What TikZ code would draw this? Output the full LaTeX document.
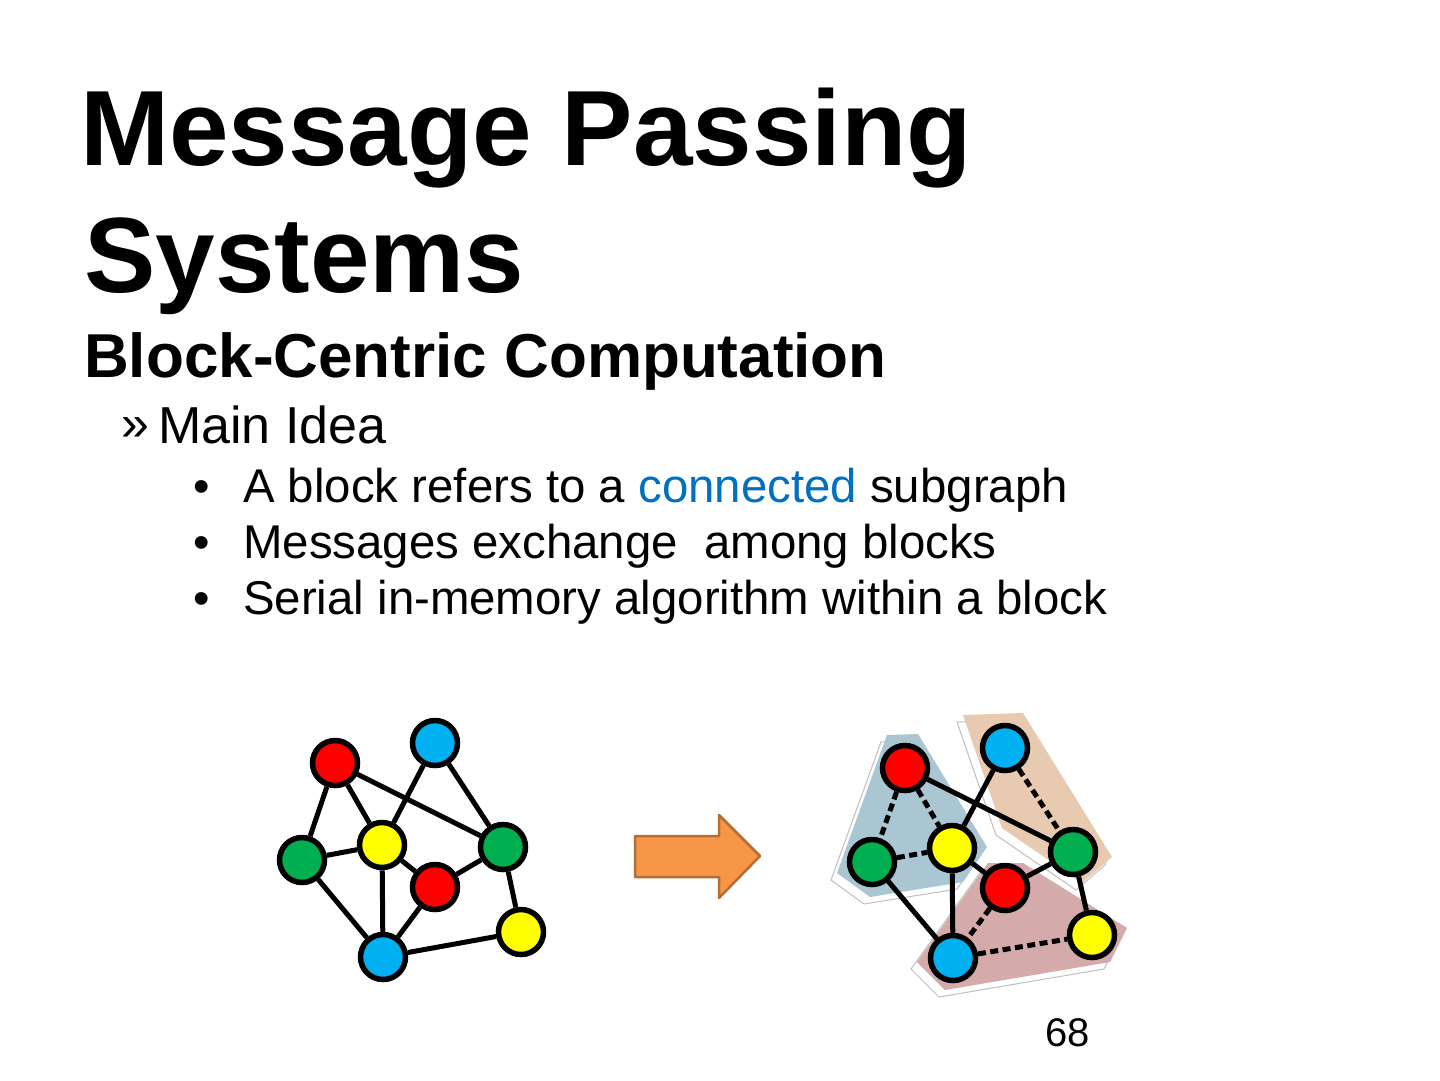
\documentclass[tikz,border=0pt]{standalone}
\usepackage{fontspec}
\setmainfont{Liberation Sans}
\usepackage{tikz}
\usetikzlibrary{backgrounds,shadows}
\definecolor{vred}{HTML}{FF0000}
\definecolor{vblue}{HTML}{00B0F0}
\definecolor{vgreen}{HTML}{00B050}
\definecolor{vyellow}{HTML}{FFFF00}
\definecolor{linkblue}{HTML}{0070C0}
\definecolor{arrowfill}{HTML}{F79646}
\definecolor{arrowline}{HTML}{B66D31}
\definecolor{blkblue}{HTML}{A9C6D2}
\definecolor{blkorange}{HTML}{E7CAAF}
\definecolor{blkred}{HTML}{D4AAAB}

\begin{document}
\begin{tikzpicture}[
  x=1pt, y=-1pt,
  vtx/.style={circle, draw, line width=5.5pt, minimum size=45pt, inner sep=0pt, drop shadow={shadow xshift=2pt, shadow yshift=-2.5pt, opacity=0.3}},
  link/.style={line width=5pt},
  local/.style={link, dash pattern=on 8pt off 4.5pt},
  bevel/.style={fill=white, draw=black!25, line width=1pt, line join=round},
  txt/.style={anchor=base west, inner sep=0pt},
  bigarrow/.style={fill=arrowfill, draw=arrowline, line width=2.5pt, line join=round}
]
\useasboundingbox (0,0) rectangle (1440,1080);
% Title and bullets
\node[txt, font=\fontsize{107}{120}\selectfont\bfseries] (title1) at (80,165) {Message Passing};
\node[txt, font=\fontsize{107}{120}\selectfont\bfseries] (title2) at (84,292) {Systems};
\node[txt, font=\fontsize{62}{70}\selectfont\bfseries] (subtitle) at (84,377) {Block-Centric Computation};
\node[txt, font=\fontsize{50}{56}\selectfont] (mark) at (121,440) {»};
\node[txt, font=\fontsize{52}{60}\selectfont] (idea) at (158,443) {Main Idea};
\node[txt, font=\fontsize{47}{54}\selectfont] (dot1) at (193,502) {•};
\node[txt, font=\fontsize{47.4}{54}\selectfont] (item1) at (243,502) {A block refers to a \textcolor{linkblue}{connected} subgraph};
\node[txt, font=\fontsize{47}{54}\selectfont] (dot2) at (193,558) {•};
\node[txt, font=\fontsize{47.4}{54}\selectfont] (item2) at (243,558) {Messages exchange\ \ among blocks};
\node[txt, font=\fontsize{47}{54}\selectfont] (dot3) at (193,614) {•};
\node[txt, font=\fontsize{47.4}{54}\selectfont] (item3) at (243,614) {Serial in-memory algorithm within a block};
\node[txt, font=\fontsize{40}{46}\selectfont] (page) at (1045,1046) {68};
% Left graph
\node[vtx, fill=vred] (lred1) at (335,763) {};
\node[vtx, fill=vblue] (lblue1) at (435,743) {};
\node[vtx, fill=vgreen] (lgreen1) at (302,860) {};
\node[vtx, fill=vyellow] (lyellow1) at (382,845) {};
\node[vtx, fill=vred] (lred2) at (435,887) {};
\node[vtx, fill=vgreen] (lgreen2) at (503,847) {};
\node[vtx, fill=vyellow] (lyellow2) at (521,932) {};
\node[vtx, fill=vblue] (lblue2) at (383,957) {};
\draw[link] (lred1) -- (lgreen1) (lred1) -- (lyellow1) (lred1) -- (lgreen2)
  (lblue1) -- (lyellow1) (lblue1) -- (lgreen2) (lgreen1) -- (lyellow1)
  (lgreen1) -- (lblue2) (lyellow1) -- (lred2) (lyellow1) -- (lblue2)
  (lred2) -- (lgreen2) (lred2) -- (lblue2) (lgreen2) -- (lyellow2) (lyellow2) -- (lblue2);
% Arrow
\draw[bigarrow] (635,836) -- (719,836) -- (719,815) -- (760,856) -- (719,898) -- (719,877) -- (635,877) -- cycle;
% Right graph
\node[vtx, fill=vred] (rred1) at (905,768) {};
\node[vtx, fill=vblue] (rblue1) at (1005,748) {};
\node[vtx, fill=vgreen] (rgreen1) at (872,862) {};
\node[vtx, fill=vyellow] (ryellow1) at (952,848) {};
\node[vtx, fill=vred] (rred2) at (1005,888) {};
\node[vtx, fill=vgreen] (rgreen2) at (1073,852) {};
\node[vtx, fill=vyellow] (ryellow2) at (1092,935) {};
\node[vtx, fill=vblue] (rblue2) at (953,958) {};
\draw[local] (rred1) -- (rgreen1) (rred1) -- (ryellow1) (rgreen1) -- (ryellow1)
  (rblue1) -- (rgreen2) (rred2) -- (rblue2) (rblue2) -- (ryellow2);
\draw[link] (rred1) -- (rgreen2) (rblue1) -- (ryellow1) (rgreen1) -- (rblue2)
  (ryellow1) -- (rred2) (ryellow1) -- (rblue2) (rred2) -- (rgreen2) (rgreen2) -- (ryellow2);
% Blocks
\begin{scope}[on background layer]
  \fill[white] (0,0) rectangle (1440,1080);
  \draw[bevel, shift={(-6,7)}] (887,735) -- (918,734) -- (987,847) -- (963,882) -- (870,897) -- (837,873) -- cycle;
  \fill[blkblue] (887,735) -- (918,734) -- (987,847) -- (963,882) -- (870,897) -- (837,873) -- cycle;
  \draw[bevel, shift={(-6,7)}] (963,715) -- (1023,713) -- (1112,857) -- (1082,883) -- (1002,828) -- cycle;
  \fill[blkorange] (963,715) -- (1023,713) -- (1112,857) -- (1082,883) -- (1002,828) -- cycle;
  \draw[bevel, shift={(-6,7)}] (988,863) -- (1023,863) -- (1127,928) -- (1110,962) -- (945,990) -- (917,962) -- cycle;
  \fill[blkred] (988,863) -- (1023,863) -- (1127,928) -- (1110,962) -- (945,990) -- (917,962) -- cycle;
\end{scope}
\end{tikzpicture}
\end{document}
